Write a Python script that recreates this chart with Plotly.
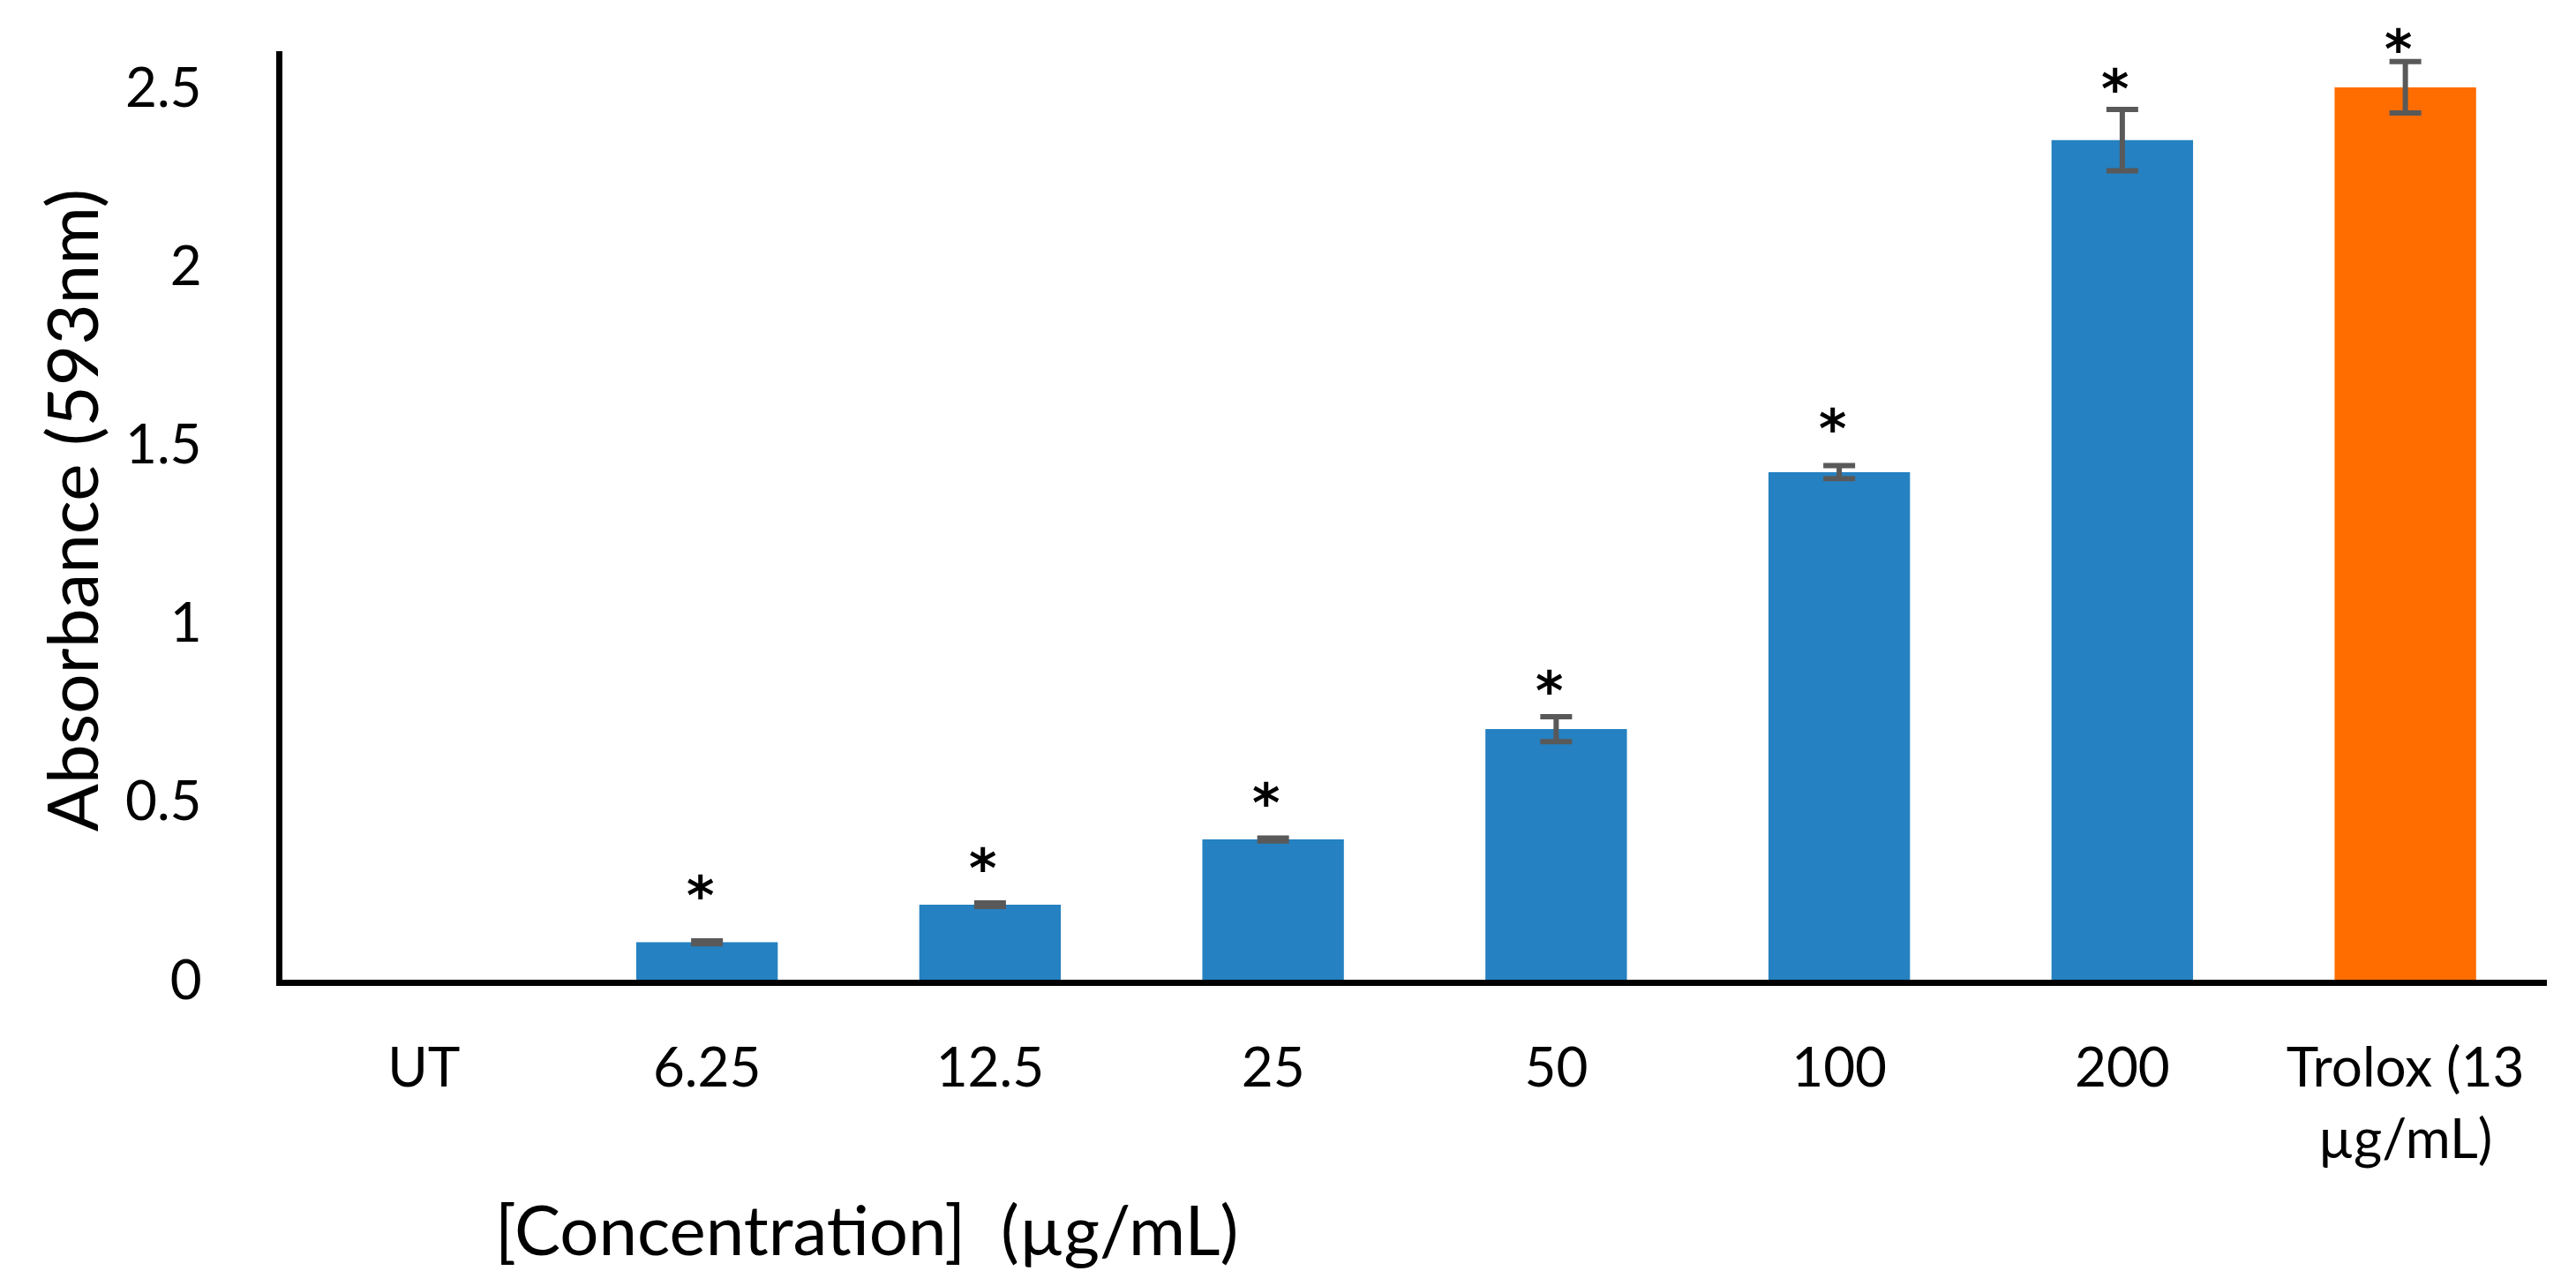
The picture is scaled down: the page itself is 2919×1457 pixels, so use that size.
import plotly.graph_objects as go

# ---- data ----
categories = ["UT", "6.25", "12.5", "25", "50", "100", "200", "Trolox (13<br>µg/mL)"]
absorbance = [None, 0.105, 0.210, 0.393, 0.702, 1.422, 2.352, 2.500]
error_sd = [None, 0.004, 0.005, 0.004, 0.035, 0.018, 0.086, 0.072]
star_level = [None, 0.272, 0.349, 0.532, 0.846, 1.580, 2.532, 2.643]
bar_colors = ["#2581C1", "#2581C1", "#2581C1", "#2581C1", "#2581C1", "#2581C1", "#2581C1", "#FF6D00"]
y_tick_values = [0, 0.5, 1, 1.5, 2, 2.5]
y_tick_labels = ["0", "0.5", "1", "1.5", "2", "2.5"]
y_axis_max = 2.6          # top of the drawn value axis
y_headroom_max = 2.7      # invisible axis that leaves room for the top asterisk
y_title = "Absorbance (593nm)"
x_title = "[Concentration] \u00a0(µg/mL)"

FONT = "Lato"

fig = go.Figure()
fig.add_trace(go.Bar(
    x=categories,
    y=absorbance,
    width=0.5,
    marker=dict(color=bar_colors, line=dict(width=0)),
    error_y=dict(type="data", array=error_sd, visible=True,
                 color="#595959", thickness=6, width=18),
    showlegend=False,
    hoverinfo="skip",
))

annotations = []
for idx, lvl in enumerate(star_level):
    if lvl is None:
        continue
    annotations.append(dict(
        x=idx, y=lvl, xref="x", yref="y2", text="*", showarrow=False,
        font=dict(family="DejaVu Sans", size=60, color="black", weight="bold"),
        xanchor="center", yanchor="middle", xshift=-8, yshift=-15,
    ))

annotations.append(dict(
    x=-0.0935, y=0.487, xref="paper", yref="paper", text=y_title,
    showarrow=False, textangle=-90, xanchor="center", yanchor="middle",
    font=dict(family=FONT, size=80, color="black"),
))
annotations.append(dict(
    x=0.258, y=-0.258, xref="paper", yref="paper", text=x_title,
    showarrow=False, xanchor="center", yanchor="middle",
    font=dict(family=FONT, size=78, color="black"),
))

fig.update_layout(
    width=2919, height=1457,
    margin=dict(l=320, r=33, t=18, b=347, pad=0),
    paper_bgcolor="white", plot_bgcolor="rgba(0,0,0,0)",
    font=dict(family=FONT, color="black"),
    annotations=annotations,
    bargap=0.5,
    yaxis2=dict(range=[0, y_headroom_max], domain=[0, 1], anchor="x",
                visible=False, showgrid=False, zeroline=False),
)
fig.update_xaxes(
    type="category", categoryorder="array", categoryarray=categories,
    range=[-0.5, 7.5],
    showline=True, linecolor="black", linewidth=7, mirror=False,
    showgrid=False, zeroline=False, ticks="",
    tickfont=dict(family=FONT, size=62, color="black"),
    ticklabelstandoff=40,
)
fig.update_layout(yaxis=dict(
    range=[0, y_axis_max], domain=[0, y_axis_max / y_headroom_max],
    tickmode="array", tickvals=y_tick_values, ticktext=y_tick_labels,
    showline=True, linecolor="black", linewidth=7, mirror=False,
    showgrid=False, zeroline=False, ticks="",
    tickfont=dict(family=FONT, size=62, color="black"),
    ticklabelstandoff=72,
))

fig.write_html(
    "out.html",
    config={"displayModeBar": False},
    post_script="document.body.style.margin='0';document.body.style.overflow='hidden';",
)
